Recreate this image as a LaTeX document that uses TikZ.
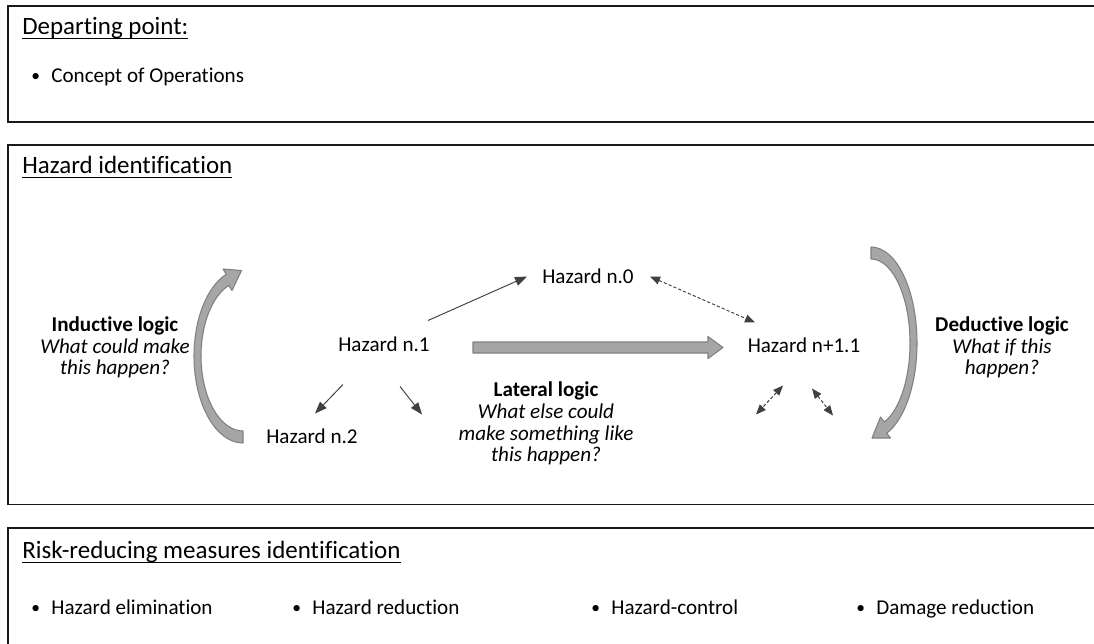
\documentclass[tikz,border=0pt]{standalone}
\usepackage{fontspec}
\setmainfont{Carlito}[Ligatures=NoCommon]
\usetikzlibrary{arrows.meta}

\definecolor{tipgray}{RGB}{64,64,64}
\definecolor{bandfill}{RGB}{166,166,166}
\definecolor{bandline}{RGB}{128,128,128}

\newcommand{\ulhead}[1]{\setbox0=\hbox{#1}\rlap{\rule[-2.8pt]{\wd0}{0.8pt}}\box0}
\newcommand{\bul}{\makebox[0.95em][l]{\raisebox{0.5pt}{\fontsize{10}{10}\selectfont •}}}

\begin{document}
\begin{tikzpicture}[
    every node/.style={font=\fontsize{12}{12.3}\selectfont, inner sep=0pt},
    heading/.style={anchor=base west, font=\fontsize{14.2}{17}\selectfont},
    panel/.style={line width=0.9pt, draw=black!90},
    link/.style={tipgray, line width=0.55pt, -{Triangle[length=2.4mm,width=1.8mm]}},
    twoway/.style={tipgray, line width=0.55pt, dash pattern=on 1.8pt off 1.2pt,
        {Triangle[length=2mm,width=1.6mm]}-{Triangle[length=2mm,width=1.6mm]}},
    bigarrow/.style={fill=bandfill, draw=bandline, line width=0.6pt, line join=round}
]
    \useasboundingbox (0,0) rectangle (21.88,12.86);

    % Departing point
    \draw[panel] (0.16,12.74) rectangle (22.5,10.42);
    \node[heading] (dep) at (0.44,12.18) {\ulhead{Departing point:}};
    \node[anchor=base west] (conops) at (0.62,11.22) {\bul Concept of Operations};

    % Hazard identification
    \draw[panel] (0.16,9.96) rectangle (22.5,2.77);
    \node[heading] (hazid) at (0.44,9.40) {\ulhead{Hazard identification}};

    \node[anchor=base] (h0) at (11.76,7.20) {Hazard n.0};
    \node[anchor=base] (h1) at (7.68,5.84) {Hazard n.1};
    \node[anchor=base] (hn) at (16.08,5.82) {Hazard n+1.1};
    \node[anchor=base] (h2) at (6.24,4.00) {Hazard n.2};

    \node[align=center] (induct) at (2.30,5.91)
        {\textbf{Inductive logic}\\\textit{What could make}\\\textit{this happen?}};
    \node[align=center] (deduct) at (20.04,5.91)
        {\textbf{Deductive logic}\\\textit{What if this}\\\textit{happen?}};
    \node[align=center] (lateral) at (10.92,4.39)
        {\textbf{Lateral logic}\\\textit{What else could}\\\textit{make something like}\\\textit{this happen?}};

    % thin arrows out of n.1
    \coordinate (h1free) at ([shift={(0.76,-1.415)}]h1.center);
    \draw[link] ([shift={(0.88,0.465)}]h1.center) -- ([shift={(-1.22,-0.015)}]h0.center);
    \draw[link] ([shift={(-0.82,-0.815)}]h1.center) -- ([shift={(0.06,0.445)}]h2.center);
    \draw[link] ([shift={(0.32,-0.855)}]h1.center) -- (h1free);

    % dashed links round n+1.1
    \coordinate (hnleft) at ([shift={(-0.96,-1.395)}]hn.center);
    \coordinate (hnright) at ([shift={(0.58,-1.415)}]hn.center);
    \draw[twoway] ([shift={(1.24,-0.015)}]h0.center) -- ([shift={(-0.98,0.445)}]hn.center);
    \draw[twoway] ([shift={(-0.42,-0.815)}]hn.center) -- (hnleft);
    \draw[twoway] ([shift={(0.16,-0.875)}]hn.center) -- (hnright);

    % lateral arrow
    \coordinate (latS) at ([shift={(1.78,-0.075)}]h1.center);
    \coordinate (latE) at ([shift={(-1.62,-0.055)}]hn.center);
    \filldraw[bigarrow] ([yshift=0.11cm]latS) -- ([shift={(-0.30,0.11)}]latE)
        -- ([shift={(-0.30,0.22)}]latE) -- (latE) -- ([shift={(-0.30,-0.22)}]latE)
        -- ([shift={(-0.30,-0.11)}]latE) -- ([yshift=-0.11cm]latS) -- cycle;

    % inductive / deductive curved arrows
    \filldraw[bigarrow] (4.86,4.00) arc[start angle=270, end angle=110, x radius=0.98, y radius=1.74]
        -- (4.46,7.48) -- (4.83,7.45) -- (4.64,7.05) -- (4.573,7.150)
        arc[start angle=110, end angle=270, x radius=0.84, y radius=1.50] -- cycle;
    \filldraw[bigarrow] (17.42,7.92) arc[start angle=90, end angle=-70, x radius=0.92, y radius=1.92]
        -- (17.81,4.10) -- (17.44,4.10) -- (17.61,4.52) -- (17.687,4.421)
        arc[start angle=-70, end angle=90, x radius=0.78, y radius=1.68] -- cycle;

    % Risk-reducing measures
    \draw[panel] (0.16,2.30) rectangle (22.5,-0.5);
    \node[heading] (riskid) at (0.44,1.70) {\ulhead{Risk-reducing measures identification}};
    \node[anchor=base west] (elim) at (0.62,0.58) {\bul Hazard elimination};
    \node[anchor=base west] (reduc) at (5.84,0.58) {\bul Hazard reduction};
    \node[anchor=base west] (ctrl) at (11.82,0.58) {\bul Hazard-control};
    \node[anchor=base west] (dmg) at (17.12,0.58) {\bul Damage reduction};
\end{tikzpicture}
\end{document}
